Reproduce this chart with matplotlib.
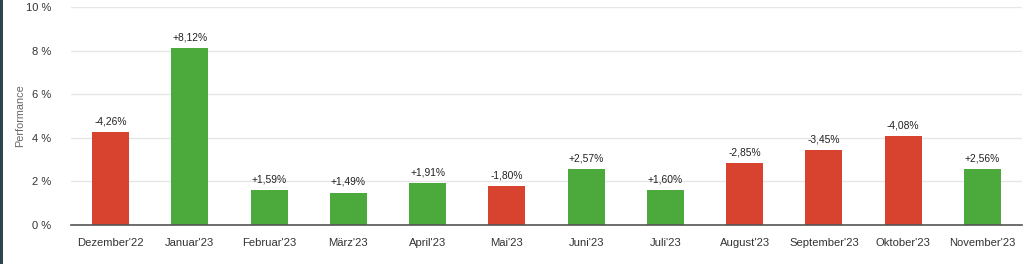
import matplotlib
matplotlib.use("Agg")
import matplotlib.pyplot as plt
from matplotlib.patches import Rectangle

categories = ["Dezember'22", "Januar'23", "Februar'23", "März'23", "April'23", "Mai'23",
              "Juni'23", "Juli'23", "August'23", "September'23", "Oktober'23", "November'23"]
performance = [-4.26, 8.12, 1.59, 1.49, 1.91, -1.80, 2.57, 1.60, -2.85, -3.45, -4.08, 2.56]
y_ticks = [0, 2, 4, 6, 8, 10]

RED = "#d84330"
GREEN = "#4caa3c"

plt.rcParams['font.family'] = ['Liberation Sans', 'DejaVu Sans']

fig = plt.figure(figsize=(10.30, 2.64), dpi=100)
fig.patch.set_facecolor("white")
fig.patches.append(Rectangle((0, 0), 3 / 1030, 1, transform=fig.transFigure,
                             facecolor="#2e4451", edgecolor="none", zorder=10))

ax = fig.add_axes([71 / 1030, 1 - 225 / 264, (1022 - 71) / 1030, (225 - 7) / 264])

x = range(len(categories))
heights = [abs(v) for v in performance]
colors = [GREEN if v >= 0 else RED for v in performance]
bars = ax.bar(x, heights, width=0.47, color=colors, zorder=3)

for xi, v in zip(x, performance):
    s = ("+" if v >= 0 else "-") + f"{abs(v):.2f}".replace(".", ",") + "%"
    ax.annotate(s, (xi, abs(v)), xytext=(0, 4), textcoords="offset points",
                ha="center", va="bottom", fontsize=7.4, color="#222222", zorder=4)

ax.set_xlim(-0.5, len(categories) - 0.5)
ax.set_ylim(0, 10)
ax.set_yticks(y_ticks)
ax.set_yticklabels([f"{t} %" for t in y_ticks])
ax.set_xticks(list(x))
ax.set_xticklabels(categories)

ax.tick_params(axis="y", length=0, pad=14, labelsize=8, labelcolor="#333333")
ax.tick_params(axis="x", length=0, pad=9, labelsize=8.1, labelcolor="#333333")

ax.grid(axis="y", color="#e6e6e6", linewidth=1, zorder=0)
for side in ["top", "right", "left"]:
    ax.spines[side].set_visible(False)
ax.spines["bottom"].set_color("#555555")
ax.spines["bottom"].set_linewidth(1.2)
ax.spines["bottom"].set_zorder(5)

ax.set_ylabel("Performance", fontsize=7.8, color="#666666")
ax.yaxis.set_label_coords((25 - 71) / 951, 0.5)

fig.savefig("out.png", dpi=100)
